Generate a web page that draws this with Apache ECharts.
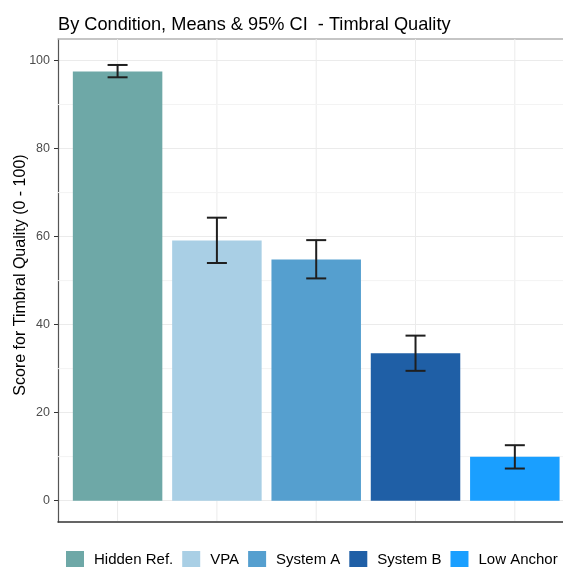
<!DOCTYPE html>
<html>
<head>
<meta charset="utf-8">
<script src="https://cdn.jsdelivr.net/npm/echarts@6/dist/echarts.min.js"></script>
<style>
  html, body { margin: 0; padding: 0; background: #fff; }
  #chart-container { width: 563px; height: 567px; }
</style>
</head>
<body>
<div id="chart-container"></div>
<script>
let categories = ['Hidden Ref.', 'VPA', 'System A', 'System B', 'Low Anchor'];
let means = [97.5, 59.1, 54.8, 33.5, 10.0];
let ciLow = [96.2, 54.0, 50.5, 29.5, 7.3];
let ciHigh = [99.0, 64.3, 59.2, 37.5, 12.6];
let colors = ['#6ea8a7', '#a9cfe5', '#559fcf', '#1f5fa6', '#1a9fff'];
let majorTicks = [0, 20, 40, 60, 80, 100];
let minorTicks = [10, 30, 50, 70, 90];

function init() {
  let font = "'Liberation Sans', Arial, sans-serif";

  let barSeries = categories.map((name, i) => ({
    name,
    type: 'bar',
    barWidth: 89.5,
    barGap: '-100%',
    z: 3,
    itemStyle: { color: colors[i] },
    data: [[i + 1, means[i]]]
  }));

  // grid lines drawn under the bars: vertical at categories, horizontal minor lines
  function gridLine(vertical, color) {
    return function (params, api) {
      let cs = params.coordSys;
      let p = api.coord(vertical ? [api.value(0), 0] : [1, api.value(0)]);
      let shape = vertical
        ? { x1: p[0], y1: cs.y, x2: p[0], y2: cs.y + cs.height - 1 }
        : { x1: cs.x, y1: p[1], x2: cs.x + cs.width, y2: p[1] };
      return { type: 'line', shape, style: { stroke: color, lineWidth: 1 } };
    };
  }
  let vGridSeries = {
    type: 'custom',
    z: 1,
    silent: true,
    data: categories.map((c, i) => [i + 1]),
    renderItem: gridLine(true, '#ebebeb')
  };
  let hGridSeries = {
    type: 'custom',
    z: 1,
    silent: true,
    data: minorTicks.map(v => [v]),
    encode: { y: 0 },
    renderItem: gridLine(false, '#f3f3f3')
  };

  let errorSeries = {
    type: 'custom',
    z: 5,
    silent: true,
    data: categories.map((c, i) => [i + 1, ciLow[i], ciHigh[i]]),
    renderItem: function (params, api) {
      let lo = api.coord([api.value(0), api.value(1)]);
      let hi = api.coord([api.value(0), api.value(2)]);
      let hw = 10;
      let style = { stroke: '#1f1f1f', lineWidth: 2, fill: null };
      return {
        type: 'group',
        children: [
          { type: 'line', shape: { x1: lo[0], y1: lo[1], x2: hi[0], y2: hi[1] }, style },
          { type: 'line', shape: { x1: hi[0] - hw, y1: hi[1], x2: hi[0] + hw, y2: hi[1] }, style },
          { type: 'line', shape: { x1: lo[0] - hw, y1: lo[1], x2: lo[0] + hw, y2: lo[1] }, style }
        ]
      };
    }
  };

  let xBase = {
    type: 'value',
    min: 0.4,
    max: 5.485,
    axisTick: { show: false },
    axisLabel: { show: false },
    splitLine: { show: false }
  };

  let option = {
    animation: false,
    textStyle: { fontFamily: font },
    title: {
      text: 'By Condition, Means & 95% CI  - Timbral Quality',
      left: 53,
      top: 11,
      textStyle: { fontSize: 18.2, fontWeight: 'normal', color: '#000', fontFamily: font }
    },
    // y axis title
    graphic: [{
      type: 'text',
      x: 20.5,
      y: 275,
      rotation: Math.PI / 2,
      silent: true,
      style: {
        text: 'Score for Timbral Quality (0 - 100)',
        fontSize: 16,
        fontFamily: font,
        fill: '#000',
        align: 'center',
        verticalAlign: 'middle'
      }
    }],
    legend: {
      data: categories,
      left: 66,
      top: 551,
      width: 497,
      padding: 0,
      icon: 'rect',
      itemWidth: 18,
      itemHeight: 18,
      itemGap: 9,
      selectedMode: false,
      textStyle: { fontSize: 15, color: '#000', fontFamily: font, padding: [0, 0, 0, 5] }
    },
    grid: {
      left: 58,
      top: 39,
      right: 0,
      height: 483,
      outerBoundsMode: 'none',
      containLabel: false,
      show: false
    },
    xAxis: [
      {
        ...xBase,
        position: 'bottom',
        axisLine: { show: true, onZero: false, lineStyle: { color: '#333', width: 1.5 } }
      },
      {
        ...xBase,
        position: 'top',
        axisLine: { show: true, onZero: false, lineStyle: { color: '#b3b3b3', width: 1.5 } }
      }
    ],
    yAxis: {
      type: 'value',
      min: -4.85,
      max: 104.9,
      axisLine: { show: true, onZero: false, lineStyle: { color: '#555', width: 1.2 } },
      axisTick: { show: true, length: 4, customValues: majorTicks, lineStyle: { color: '#333' } },
      axisLabel: { customValues: majorTicks, fontSize: 12.5, color: '#4d4d4d', margin: 8, fontFamily: font },
      splitLine: { show: true, lineStyle: { color: '#ebebeb', width: 1 } }
    },
    series: [vGridSeries, hGridSeries, ...barSeries, errorSeries]
  };

  let myChart = echarts.init(document.getElementById('chart-container'));
  myChart.setOption(option);
}
init();
</script>
</body>
</html>
